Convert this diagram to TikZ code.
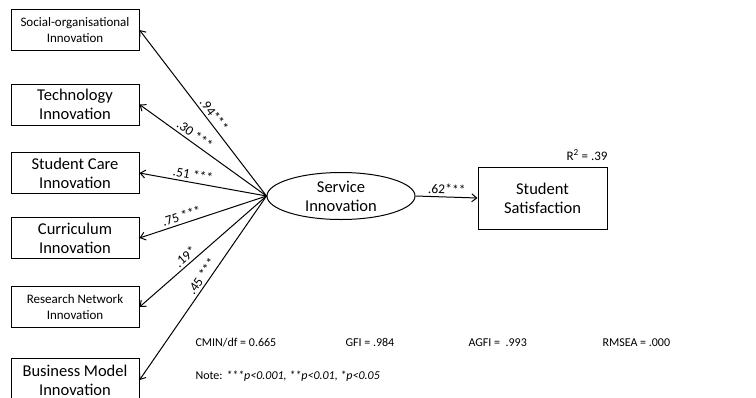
\documentclass[tikz,border=0pt]{standalone}
\usepackage{fontspec}
\setmainfont{Carlito}
\usetikzlibrary{arrows.meta, shapes.geometric, positioning}

\begin{document}
\begin{tikzpicture}[x=1pt, y=-1pt,
			>={Straight Barb[length=5pt, width=8pt]},
			line width=1pt,
			box/.style={draw, rectangle, minimum width=128pt, minimum height=41pt, align=center, inner sep=1pt, font=\fontsize{16.5}{19}\selectfont},
			small/.style={font=\fontsize{13}{16}\selectfont},
			est/.style={sloped, above, font=\fontsize{13.5}{16}\selectfont, inner sep=2.5pt},
			fit/.style={anchor=base west, inner sep=0pt, font=\fontsize{12}{14}\selectfont}]
			
			\useasboundingbox (0,0) rectangle (756,397);
			\clip (0,0) rectangle (756,397);
			
			% indicators
			\node[box, small] (soc) at (75,30) {Social-organisational\\Innovation};
			\node[box] (tech) at (75,104.5) {Technology\\Innovation};
			\node[box] (care) at (75,173) {Student Care\\Innovation};
			\node[box] (curr) at (75,238) {Curriculum\\Innovation};
			\node[box, small] (res) at (75,307) {Research Network\\Innovation};
			\node[box, minimum height=44pt] (bus) at (75,380) {Business Model\\Innovation};
			
			% latent and outcome
			\node[draw, ellipse, minimum width=148pt, minimum height=47pt, inner sep=0pt, align=center, font=\fontsize{16.5}{19}\selectfont] (si) at (341,196) {Service\\Innovation};
			\node[box, minimum width=129pt, minimum height=62pt] (sat) at (542.5,198) {Student\\Satisfaction};
			\node[small] (r2) at (587,155) {R\textsuperscript{2} = .39};
			
			\draw[->] (si.west) -- node[est, pos=0.46] {.94***} (soc.east);
			\draw[->] (si.west) -- node[est, pos=0.6] {.30 ***} (tech.east);
			\draw[->] (si.west) -- node[est, pos=0.59] {.51 ***} (care.east);
			\draw[->] (si.west) -- node[est, pos=0.65] {.75 ***} (curr.east);
			\draw[->] (si.west) -- node[est, pos=0.6] {.19*} (res.east);
			\draw[->] (si.west) -- node[est, pos=0.46] {.45 ***} (bus.east);
			\draw[->] (si.east) -- node[est] {.62***} (sat.west);
			
			% fit indices
			\node[fit] (cmin) at (195,346) {CMIN/df = 0.665};
			\node[fit] (gfi) at (345,346) {GFI = .984};
			\node[fit] (agfi) at (468,346) {AGFI = \ .993};
			\node[fit] (rmsea) at (602,346) {RMSEA = .000};
			\node[fit] (note) at (195,379) {Note: \textit{***p<0.001, **p<0.01, *p<0.05}};
		\end{tikzpicture}
\end{document}
